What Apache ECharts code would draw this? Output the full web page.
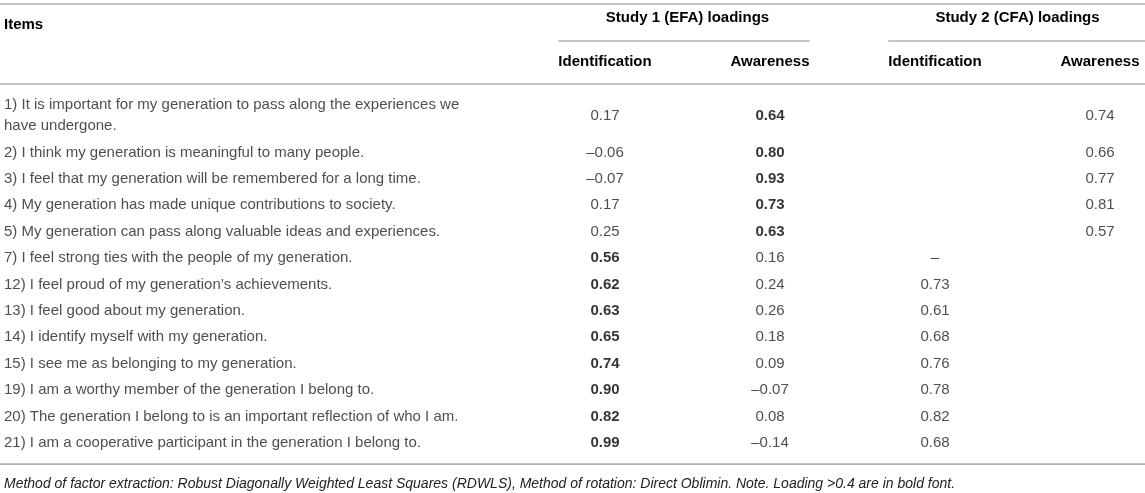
<!DOCTYPE html>
<html><head><meta charset="utf-8">
<script src="https://cdn.jsdelivr.net/npm/echarts@6/dist/echarts.min.js"></script>
<style>html,body{margin:0;padding:0;background:#fff}#c{width:1145px;height:493px}</style>
</head><body><div id="c"></div>
<script>
// ---------------- data ----------------
const itemsHeader = 'Items';
const studyHeaders = ['Study 1 (EFA) loadings', 'Study 2 (CFA) loadings'];
const columnHeaders = ['Identification', 'Awareness', 'Identification', 'Awareness'];
const items = [
  '1) It is important for my generation to pass along the experiences we have undergone.',
  '2) I think my generation is meaningful to many people.',
  '3) I feel that my generation will be remembered for a long time.',
  '4) My generation has made unique contributions to society.',
  '5) My generation can pass along valuable ideas and experiences.',
  '7) I feel strong ties with the people of my generation.',
  '12) I feel proud of my generation\u2019s achievements.',
  '13) I feel good about my generation.',
  '14) I identify myself with my generation.',
  '15) I see me as belonging to my generation.',
  '19) I am a worthy member of the generation I belong to.',
  '20) The generation I belong to is an important reflection of who I am.',
  '21) I am a cooperative participant in the generation I belong to.'
];
const study1Identification = [0.17, -0.06, -0.07, 0.17, 0.25, 0.56, 0.62, 0.63, 0.65, 0.74, 0.90, 0.82, 0.99];
const study1Awareness      = [0.64, 0.80, 0.93, 0.73, 0.63, 0.16, 0.24, 0.26, 0.18, 0.09, -0.07, 0.08, -0.14];
const study2Identification = [null, null, null, null, null, '\u2013', 0.73, 0.61, 0.68, 0.76, 0.78, 0.82, 0.68];
const study2Awareness      = [0.74, 0.66, 0.77, 0.81, 0.57, null, null, null, null, null, null, null, null];
const boldThreshold = 0.4;
const footnote = 'Method of factor extraction: Robust Diagonally Weighted Least Squares (RDWLS), Method of rotation: Direct Oblimin. Note. Loading >0.4 are in bold font.';

// ---------------- layout / style ----------------
const W = 1145, H = 493;
const FONT = '"Liberation Sans", Arial, Helvetica, sans-serif';
const FS = 15;
const TEXT = '#222';
const RULE = '#b0b0b0';
const PITCH = 26.4;          // px per single-line row
const LINE_H = 21;           // px between wrapped lines
const EXTRA = LINE_H / PITCH;
const WRAP = 480;            // wrap width of item text
const BODY_TOP = 91.9;
const columns = [study1Identification, study1Awareness, study2Identification, study2Awareness];
const boldCols = [true, true, false, false];

const ctx = document.createElement('canvas').getContext('2d');
function measure(t, weight) { ctx.font = (weight || 'normal') + ' ' + FS + 'px ' + FONT; return ctx.measureText(t).width; }
function countLines(t) {
  const words = t.split(' '); let lines = 1, cur = '';
  for (const w of words) {
    const next = cur ? cur + ' ' + w : w;
    if (measure(next) > WRAP && cur) { lines++; cur = w; } else cur = next;
  }
  return lines;
}
let acc = 0;
const rowCenter = items.map(t => { const h = 1 + (countLines(t) - 1) * EXTRA; const c = acc + h / 2; acc += h; return c; });
const totalUnits = acc;
const bodyH = totalUnits * PITCH;

function fmt(v) {
  if (typeof v === 'string') return v;
  return (v < 0 ? '\u2013' : '') + Math.abs(v).toFixed(2);
}

const itemData = items.map((t, i) => [0, rowCenter[i], t]);
const valueData = [];
columns.forEach((col, c) => col.forEach((v, r) => {
  if (v === null) return;
  const bold = boldCols[c] && typeof v === 'number' && v > boldThreshold;
  valueData.push({ value: [c, rowCenter[r], v], label: bold ? { fontWeight: 'bold', color: '#000' } : {} });
}));

const chart = echarts.init(document.getElementById('c'), null, { renderer: 'canvas' });
const yCommon = { type: 'value', inverse: true, min: 0, max: totalUnits, show: false, splitLine: { show: false } };
chart.setOption({
  animation: false,
  backgroundColor: '#fff',
  textStyle: { fontFamily: FONT },
  grid: [
    { left: 4, width: 10, top: BODY_TOP, height: bodyH },
    { left: 605, right: 45, top: BODY_TOP, height: bodyH }
  ],
  xAxis: [
    { gridIndex: 0, type: 'value', min: 0, max: 1, show: false },
    { gridIndex: 1, type: 'category', position: 'top', boundaryGap: false,
      data: columnHeaders.map((h, i) => i + ':' + h),
      axisLine: { show: false }, axisTick: { show: false }, splitLine: { show: false },
      axisLabel: { interval: 0, margin: BODY_TOP - 62, verticalAlign: 'middle', fontFamily: FONT,
        fontSize: FS, fontWeight: 'bold', color: '#000', formatter: (v) => v.split(':')[1] } }
  ],
  yAxis: [Object.assign({ gridIndex: 0 }, yCommon), Object.assign({ gridIndex: 1 }, yCommon)],
  series: [
    { type: 'scatter', xAxisIndex: 0, yAxisIndex: 0, symbolSize: 0, data: itemData, silent: true,
      itemStyle: { color: 'rgba(0,0,0,0)' },
      label: { show: true, position: 'right', distance: 0, align: 'left', verticalAlign: 'middle',
        width: WRAP, overflow: 'break', lineHeight: LINE_H, fontFamily: FONT, fontSize: FS, color: TEXT,
        formatter: p => p.value[2] } },
    { type: 'scatter', xAxisIndex: 1, yAxisIndex: 1, symbolSize: 0, data: valueData, silent: true,
      itemStyle: { color: 'rgba(0,0,0,0)' },
      label: { show: true, position: 'inside', align: 'center', verticalAlign: 'middle',
        fontFamily: FONT, fontSize: FS, color: TEXT, formatter: p => fmt(p.value[2]) } }
  ]
});

// structural elements positioned from the axes
const colX = columnHeaders.map((h, i) => chart.convertToPixel({ xAxisIndex: 1 }, i));
const bodyBottom = chart.convertToPixel({ yAxisIndex: 1 }, totalUnits);
function rule(x1, x2, y) { return { type: 'line', shape: { x1, y1: y, x2, y2: y }, style: { stroke: RULE, lineWidth: 1.6 }, silent: true }; }
function txt(x, y, text, opts) {
  return { type: 'text', x, y, silent: true, style: Object.assign({ text, fontFamily: FONT, fontSize: FS, fill: '#000',
    textVerticalAlign: 'middle', verticalAlign: 'middle' }, opts || {}) };
}
const g = [];
g.push(rule(0, W, 4));
g.push(rule(0, W, 84));
g.push(rule(0, W, bodyBottom + 8));
g.push(txt(4, 25, itemsHeader, { fontWeight: 'bold' }));
[0, 1].forEach(s => {
  const a = colX[2 * s], b = colX[2 * s + 1];
  g.push(txt((a + b) / 2, 18, studyHeaders[s], { fontWeight: 'bold', align: 'center', textAlign: 'center' }));
  const left = a - measure(columnHeaders[2 * s], 'bold') / 2;
  const right = s === 1 ? W : b + measure(columnHeaders[2 * s + 1], 'bold') / 2;
  g.push(rule(left, right, 41));
});
g.push(txt(4, bodyBottom + 28, footnote, { fontStyle: 'italic', fontSize: 14, fill: TEXT }));
chart.setOption({ graphic: g });
</script>
</body></html>
